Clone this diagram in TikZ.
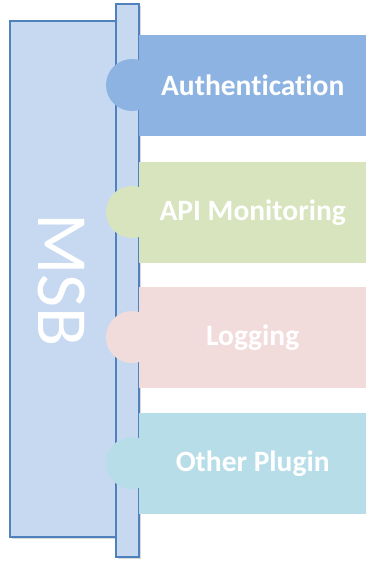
\documentclass[tikz,border=0pt]{standalone}
\usepackage{fontspec}
\setmainfont{Carlito}[Ligatures=NoCommon]
\usetikzlibrary{shadows}

\begin{document}
\begin{tikzpicture}[x=1pt, y=-1pt,
    msbbox/.style={draw=msbline, fill=msbfill, line width=1.4pt, drop shadow={opacity=0.3, shadow xshift=1.5pt, shadow yshift=-2pt}},
    plugin/.style={minimum width=227pt, minimum height=101pt, inner sep=0pt, anchor=north west, text=white, font=\fontsize{29.5}{34}\selectfont\bfseries},
  ]

\definecolor{msbline}{RGB}{79, 129, 189}
\definecolor{msbfill}{RGB}{198, 217, 241}
\definecolor{authblue}{RGB}{141, 179, 226}
\definecolor{apigreen}{RGB}{215, 228, 189}
\definecolor{logpink}{RGB}{242, 220, 219}
\definecolor{othercyan}{RGB}{183, 221, 232}

\useasboundingbox (0,0) rectangle (366,563);

%msb block
\draw[msbbox] (10,21) rectangle (116,537);
\node[rotate=-90, text=white, font=\fontsize{72}{80}\selectfont] (msb) at (62,280) {MSB};

%bus bar
\draw[msbbox] (116,4) rectangle (139,557);

%plugins
\foreach \name/\col/\top/\txt in {auth/authblue/35/Authentication, apimon/apigreen/162/API Monitoring, logging/logpink/287/Logging, other/othercyan/413/Other Plugin}
{
	\fill[\col] (132,\top+50) circle (26);
	\node[plugin, fill=\col] (\name) at (139,\top) {\txt};
}

\end{tikzpicture}
\end{document}
